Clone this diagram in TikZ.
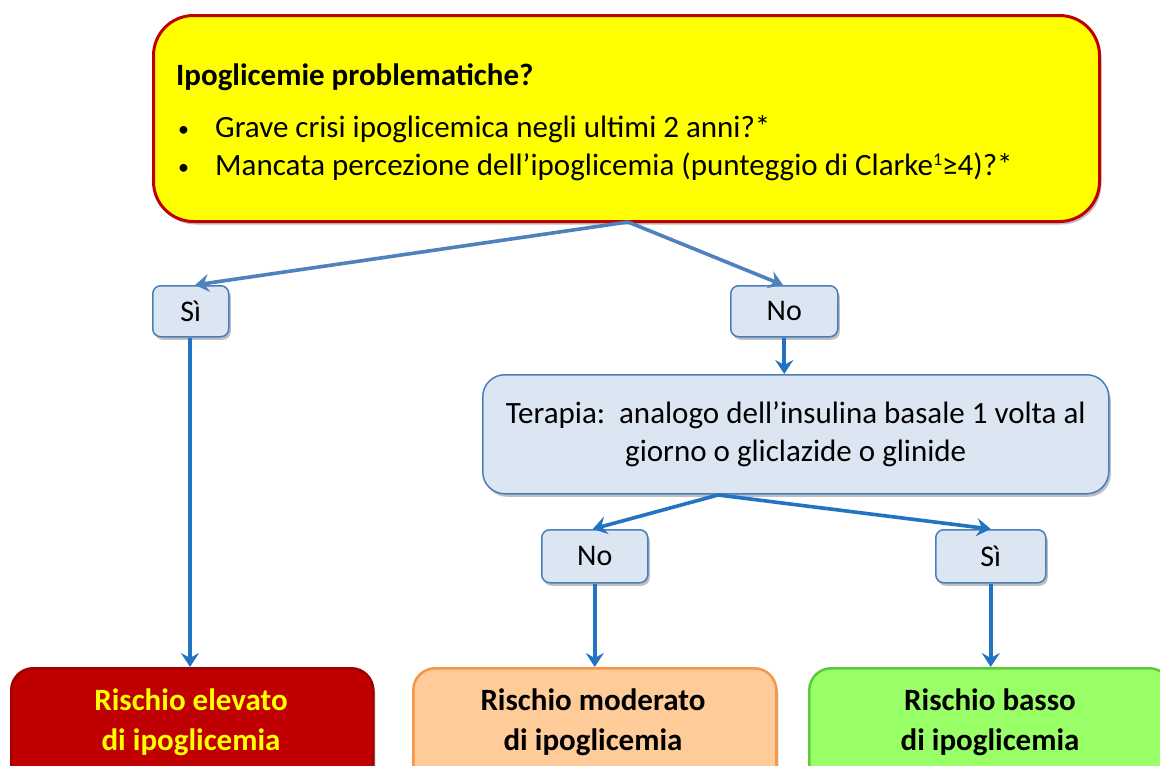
\documentclass[tikz,border=0pt]{standalone}
\usepackage{fontspec}
\setmainfont{Carlito}
\usetikzlibrary{arrows.meta,shadows}
\definecolor{topred}{HTML}{C00000}
\definecolor{topyellow}{HTML}{FFFF00}
\definecolor{lblue}{HTML}{DCE6F2}
\definecolor{bblue}{HTML}{4A7EBB}
\definecolor{arrA}{HTML}{4F81BD}
\definecolor{arrB}{HTML}{2273C1}
\definecolor{orfill}{HTML}{FFCC99}
\definecolor{ordraw}{HTML}{F79646}
\definecolor{grfill}{HTML}{99FF66}
\definecolor{grdraw}{HTML}{5CCB3A}
\definecolor{redfill}{HTML}{C00000}
\definecolor{reddraw}{HTML}{A00000}
\tikzset{
  x=1pt,y=-1pt,
  shad/.style={drop shadow={shadow xshift=2pt,shadow yshift=-3pt,opacity=0.25,fill=black}},
  smallbox/.style={draw=bblue,fill=lblue,line width=1.5pt,rounded corners=8pt,shad,
     font=\fontsize{30}{36}\selectfont,anchor=north west,inner sep=0pt,align=center},
  riskbox/.style={line width=2.5pt,rounded corners=22pt,shad,anchor=north west,inner sep=0pt},
  risktext/.style={anchor=base,inner sep=0pt,font=\bfseries\fontsize{31}{40}\selectfont},
  toptext/.style={anchor=base west,inner sep=0pt,font=\fontsize{31}{36}\selectfont},
  arrowA/.style={draw=arrA,line width=3.6pt,-{Stealth[length=14pt,width=18pt,inset=5pt]}},
  arrowB/.style={draw=arrB,line width=3.6pt,-{Stealth[length=14pt,width=18pt,inset=5pt]}},
}
\begin{document}
\begin{tikzpicture}
\useasboundingbox (0,0) rectangle (1160,766);
\begin{scope}
\clip (0,0) rectangle (1160,766);
% top box
\node[draw=topred,fill=topyellow,line width=3pt,rounded corners=40pt,shad,
  minimum width=946pt,minimum height=206pt,anchor=north west,inner sep=0pt] (top) at (152,14) {};
\node[toptext,font=\bfseries\fontsize{31}{36}\selectfont] (title) at (176,85) {Ipoglicemie problematiche?};
\node[toptext,font=\fontsize{22}{36}\selectfont] (b1) at (178,136) {•};
\node[toptext] (l1) at (215,137) {Grave crisi ipoglicemica negli ultimi 2 anni?*};
\node[toptext,font=\fontsize{22}{36}\selectfont] (b2) at (178,174) {•};
\node[toptext] (l2) at (215,175) {Mancata percezione dell’ipoglicemia (punteggio di Clarke\raisebox{10pt}{\fontsize{18}{20}\selectfont 1}≥4)?*};
% first level
\node[smallbox,minimum width=76pt,minimum height=51pt] (si1) at (152,285) {Sì};
\node[smallbox,minimum width=107pt,minimum height=51pt] (no1) at (730,285) {No};
% terapia
\node[smallbox,rounded corners=22pt,minimum width=626pt,minimum height=119pt,
  font=\fontsize{31}{38}\selectfont] (ter) at (482,374) {Terapia:\ \ analogo dell’insulina basale 1 volta al\\giorno o gliclazide o glinide};
\node[smallbox,minimum width=106pt,minimum height=53pt] (no2) at (541,529) {No};
\node[smallbox,minimum width=110pt,minimum height=53pt] (si2) at (935,529) {Sì};
% risk boxes
\node[riskbox,draw=reddraw,fill=redfill,minimum width=362pt,minimum height=130pt] (rhigh) at (10,667) {};
\node[riskbox,draw=ordraw,fill=orfill,minimum width=363pt,minimum height=130pt] (rmod) at (412,667) {};
\node[riskbox,draw=grdraw,fill=grfill,minimum width=362pt,minimum height=130pt] (rlow) at (808,667) {};
\node[risktext,text=topyellow] (thigh) at (191,710) {Rischio elevato};
\node[risktext,text=topyellow] (thigh2) at (191,750) {di ipoglicemia};
\node[risktext] (tmod) at (593,710) {Rischio moderato};
\node[risktext] (tmod2) at (593,750) {di ipoglicemia};
\node[risktext] (tlow) at (990,710) {Rischio basso};
\node[risktext] (tlow2) at (990,750) {di ipoglicemia};
\end{scope}
% connectors
\coordinate (topb) at (628,222);
\coordinate (terb) at (718,495);
\coordinate (siS) at ([xshift=38pt]si1.south west);
\coordinate (siN) at ([xshift=43pt]si1.north west);
\coordinate (noN) at ([xshift=53pt]no1.north west);
\coordinate (no2N) at ([xshift=-2pt]no2.north);
\draw[arrowA] (topb) -- (siN);
\draw[arrowA] (topb) -- (noN);
\draw[arrowB] (siS) -- (rhigh.north west -| siS);
\draw[arrowB] (no1.south) -- (ter.north -| no1.south);
\draw[arrowB] (terb) -- (no2N);
\draw[arrowB] (terb) -- (si2.north);
\draw[arrowB] (no2.south) -- (rmod.north west -| no2.south);
\draw[arrowB] (si2.south) -- (rlow.north west -| si2.south);
\end{tikzpicture}
\end{document}
